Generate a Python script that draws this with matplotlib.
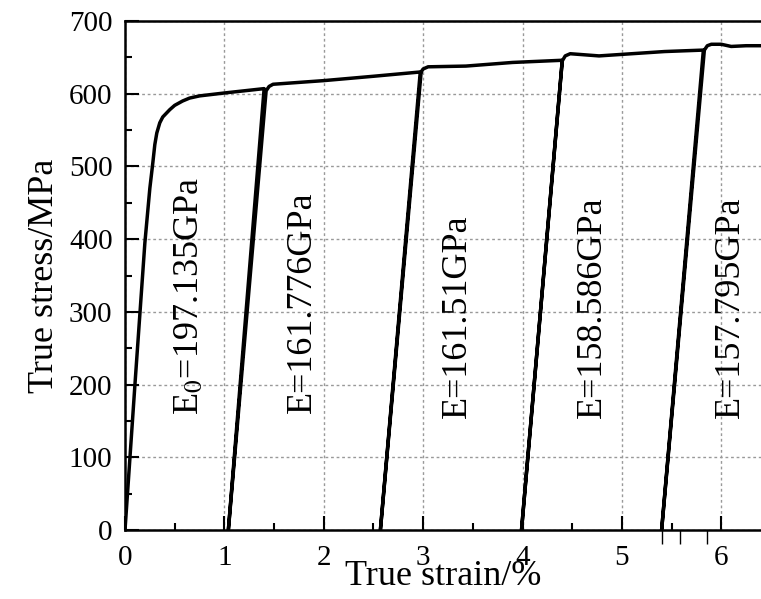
import numpy as np
import matplotlib
matplotlib.use('Agg')
import matplotlib.pyplot as plt
from matplotlib.ticker import MultipleLocator

plt.rcParams['font.family'] = ['Liberation Serif', 'DejaVu Serif']
plt.rcParams['mathtext.fontset'] = 'stix'

# True strain (%) and true stress (MPa) along the loading / unloading path
strain = [0.00, 0.05, 0.10, 0.20, 0.25, 0.28, 0.30, 0.32, 0.35, 0.38, 0.45, 0.50, 0.58, 0.65, 0.75, 1.00, 1.20, 1.40,
          1.04, 1.42, 1.45, 1.49, 2.00, 2.50, 2.98,
          2.57, 2.97, 3.00, 3.05, 3.43, 3.90, 4.40,
          3.99, 4.40, 4.43, 4.48, 4.77, 5.10, 5.43, 5.82,
          5.40, 5.83, 5.86, 5.90, 6.00, 6.10, 6.25, 6.40]
stress = [0, 100, 200, 395, 470, 505, 530, 546, 560, 568, 578, 584, 590, 594, 597, 601, 604, 607,
          0, 604, 610, 613, 618, 624, 630,
          0, 628, 634, 637, 638, 643, 646,
          0, 645, 652, 655, 652, 655, 658, 660,
          0, 660, 666, 668, 668, 665, 666, 666]

# Secant moduli written beside each cycle
moduli = ['E$_0$=197.135GPa', 'E=161.776GPa', 'E=161.51GPa', 'E=158.586GPa', 'E=157.795GPa']
label_x = [0.65, 1.79, 3.35, 4.70, 6.09]
label_y = [158, 161, 154, 154, 154]

fig = plt.figure(figsize=(7.61, 5.99), dpi=100)
ax = fig.add_axes([125 / 761, 69 / 599, 636 / 761, 509 / 599])

ax.plot(strain, stress, color='black', lw=2.5, solid_joinstyle='round', zorder=3)

for txt, x, y in zip(moduli, label_x, label_y):
    ax.text(x, y, txt, rotation=90, ha='center', va='bottom', fontsize=26)

ax.set_xlim(0, 6.4)
ax.set_ylim(0, 700)
ax.xaxis.set_major_locator(MultipleLocator(1))
ax.xaxis.set_minor_locator(MultipleLocator(0.5))
ax.yaxis.set_major_locator(MultipleLocator(100))
ax.yaxis.set_minor_locator(MultipleLocator(50))

ax.grid(True, which='major', linestyle=(0, (2, 2)), color='#999999', lw=1.0)
ax.tick_params(which='major', direction='in', length=10, width=1.5, labelsize=21, pad=9)
ax.tick_params(which='minor', direction='in', length=5, width=1.5)
ax.tick_params(axis='x', pad=11)

for s in ['left', 'bottom', 'top']:
    ax.spines[s].set_linewidth(1.8)
ax.spines['right'].set_visible(False)

# stray outward marks under the strain axis
sec = ax.secondary_xaxis('bottom')
sec.set_xticks([5.40, 5.58, 5.86])
sec.tick_params(direction='out', length=10, width=1.0, labelbottom=False)
sec.spines['bottom'].set_visible(False)

ax.set_xlabel('True strain/%', fontsize=26, labelpad=-8)
ax.set_ylabel('True stress/MPa', fontsize=26, labelpad=6)

fig.savefig('out.png', dpi=100)
